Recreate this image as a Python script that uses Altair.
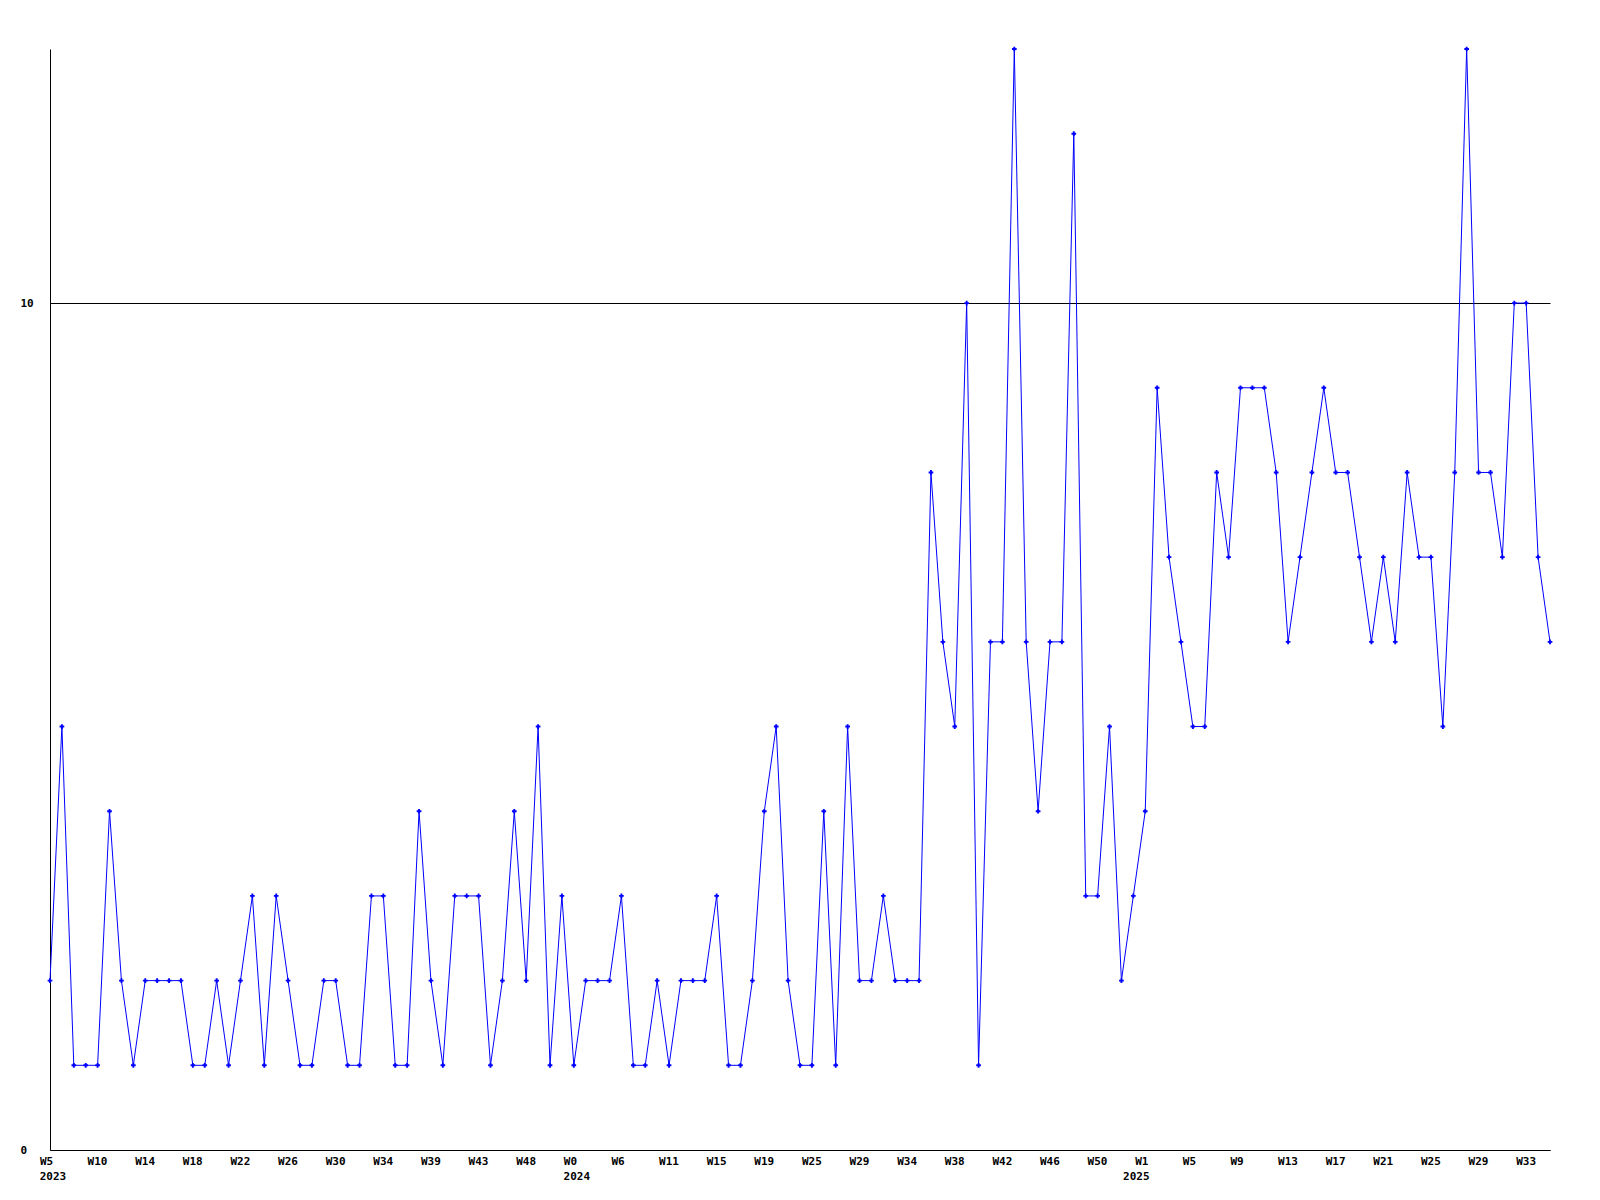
import altair as alt
import pandas as pd
import json

# weekly counts (127 points)
values = [
    2, 5, 1, 1, 1, 4, 2, 1, 2, 2, 2, 2, 1, 1, 2, 1, 2, 3, 1, 3,
    2, 1, 1, 2, 2, 1, 1, 3, 3, 1, 1, 4, 2, 1, 3, 3, 3, 1,
    2, 4, 2, 5, 1, 3, 1, 2, 2, 2, 3, 1, 1, 2, 1, 2, 2, 2, 3, 1,
    1, 2, 4, 5, 2, 1, 1, 4, 1, 5, 2, 2, 3, 2, 2, 2,
    8, 6, 5, 10, 1, 6, 6, 13, 6, 4, 6, 6, 12, 3, 3, 5, 2, 3, 4, 9,
    7, 6, 5, 5, 8, 7, 9,
    9, 9, 8, 6, 7, 8, 9, 8, 8, 7, 6, 7, 6, 8, 7, 7, 5, 8, 13, 8,
    8, 7, 10, 10, 7, 6,
]

week_labels = [
    "W5", "W10", "W14", "W18", "W22", "W26", "W30", "W34", "W39", "W43",
    "W48", "W0", "W6", "W11", "W15", "W19", "W25", "W29", "W34", "W38",
    "W42", "W46", "W50", "W1", "W5", "W9", "W13", "W17", "W21", "W25",
    "W29", "W33",
]
label_step = 4

year_labels = ["2023", "2024", "2025"]
year_positions = [0, 44, 91]

y_ticks = [0, 10]

df = pd.DataFrame({"i": list(range(len(values))), "v": values})
years_df = pd.DataFrame({"i": year_positions, "year": year_labels})

W, H = 1500, 1101
FONT = "DejaVu Sans Mono"

tick_values = list(range(0, label_step * len(week_labels), label_step))
label_expr = json.dumps(week_labels) + f"[round(datum.value / {label_step})]"

x_scale = alt.Scale(domain=[0, len(values) - 1], nice=False, zero=False)
y_scale = alt.Scale(domain=[0, 13], nice=False)

x_axis = alt.Axis(
    values=tick_values, labelExpr=label_expr, title=None, grid=False,
    ticks=False, tickSize=0, domainColor="black", domainWidth=1,
    labelAlign="left", labelOffset=-10.5, labelBaseline="middle", labelPadding=11,
    labelFont=FONT, labelFontWeight="bold", labelFontSize=11, labelColor="black",
    labelOverlap=False, labelFlush=False,
)
y_axis = alt.Axis(
    values=y_ticks, format="d", title=None, grid=True, gridColor="black",
    gridOpacity=1, gridWidth=1, ticks=False, tickSize=0, domainColor="black",
    domainWidth=1, labelAlign="left", labelBaseline="middle", labelPadding=30,
    labelFont=FONT, labelFontWeight="bold", labelFontSize=11, labelColor="black",
)

base = alt.Chart(df)

line = base.mark_line(color="#0000ff", strokeWidth=1, clip=False).encode(
    x=alt.X("i:Q", scale=x_scale, axis=x_axis),
    y=alt.Y("v:Q", scale=y_scale, axis=y_axis),
)
points = base.mark_point(
    shape="cross", filled=True, size=22, color="#0000ff", opacity=1
).encode(
    x=alt.X("i:Q", scale=x_scale),
    y=alt.Y("v:Q", scale=y_scale),
)
years = alt.Chart(years_df).mark_text(
    font=FONT, fontWeight="bold", fontSize=11, color="black",
    align="center", baseline="middle", dx=3,
).encode(
    x=alt.X("i:Q", scale=x_scale),
    y=alt.value(H + 27),
    text="year:N",
)

chart = (
    alt.layer(line, points, years)
    .properties(
        width=W, height=H,
        padding={"left": 42, "top": 41, "right": 40, "bottom": 40},
        autosize=alt.AutoSizeParams(type="none"),
        background="white",
    )
    .configure_view(stroke=None)
)

chart.save("out.html", embed_options={"renderer": "svg", "actions": False})
